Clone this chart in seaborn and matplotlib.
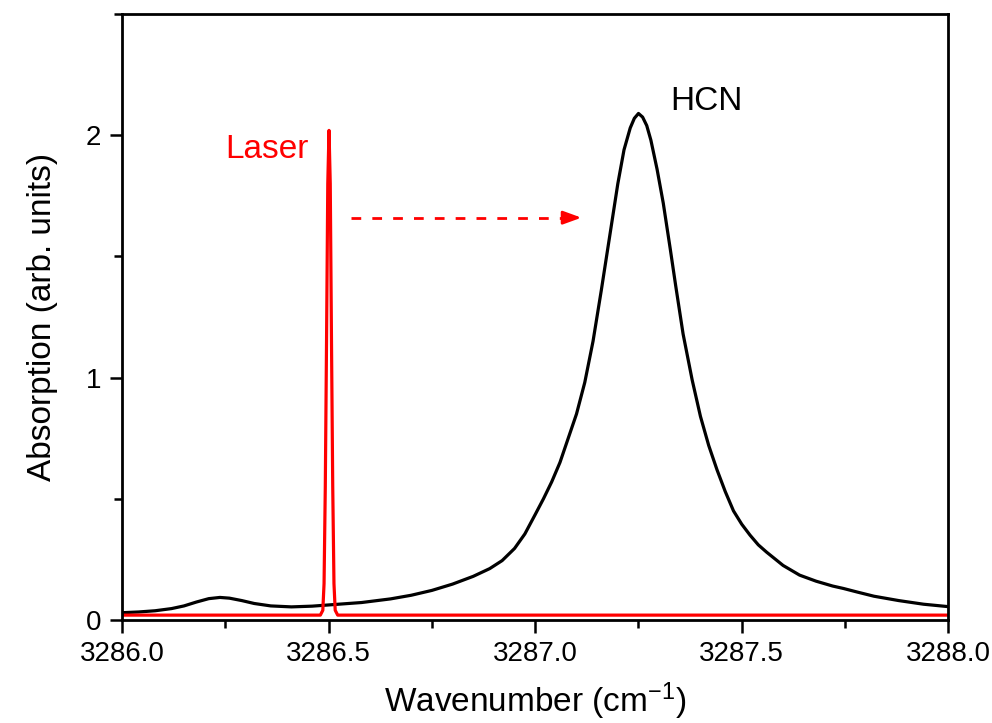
import pandas as pd
import seaborn as sns
import matplotlib.pyplot as plt
from matplotlib.ticker import MultipleLocator, FormatStrFormatter

# HCN absorption line
hcn_x = [3286.00, 3286.04, 3286.08, 3286.12, 3286.15, 3286.18, 3286.21,
         3286.237, 3286.26, 3286.29, 3286.32, 3286.36, 3286.41, 3286.46,
         3286.50, 3286.58, 3286.65, 3286.70, 3286.75, 3286.80, 3286.85,
         3286.89, 3286.92, 3286.95, 3286.975, 3287.00, 3287.02, 3287.04,
         3287.06, 3287.08, 3287.10, 3287.12, 3287.14, 3287.16, 3287.18,
         3287.20, 3287.215, 3287.23, 3287.24, 3287.25, 3287.26, 3287.27,
         3287.28, 3287.295, 3287.31, 3287.327, 3287.34, 3287.358, 3287.38,
         3287.40, 3287.42, 3287.44, 3287.46, 3287.48, 3287.50, 3287.52,
         3287.54, 3287.56, 3287.60, 3287.64, 3287.68, 3287.72, 3287.746,
         3287.78, 3287.82, 3287.88, 3287.94, 3288.00]
hcn_y = [0.030, 0.033, 0.038, 0.047, 0.058, 0.074, 0.088,
         0.093, 0.090, 0.080, 0.068, 0.058, 0.054, 0.057,
         0.062, 0.072, 0.087, 0.102, 0.122, 0.148, 0.180,
         0.212, 0.245, 0.295, 0.355, 0.435, 0.500, 0.570,
         0.650, 0.750, 0.850, 0.980, 1.150, 1.360, 1.580,
         1.800, 1.940, 2.030, 2.070, 2.090, 2.075, 2.040,
         1.980, 1.860, 1.720, 1.530, 1.380, 1.180, 0.990,
         0.840, 0.720, 0.620, 0.530, 0.450, 0.395, 0.350,
         0.310, 0.280, 0.225, 0.185, 0.160, 0.140, 0.130,
         0.115, 0.098, 0.080, 0.065, 0.055]

# laser line
laser_x = [3286.00, 3286.480, 3286.486, 3286.489, 3286.492, 3286.495,
           3286.498, 3286.501, 3286.504, 3286.507, 3286.510, 3286.513,
           3286.516, 3286.522, 3288.00]
laser_y = [0.02, 0.02, 0.04, 0.15, 0.55, 1.15,
           1.80, 2.02, 1.80, 1.15, 0.55, 0.15,
           0.04, 0.02, 0.02]

hcn = pd.DataFrame({'x': hcn_x, 'y': hcn_y})
laser = pd.DataFrame({'x': laser_x, 'y': laser_y})

sns.set_style('ticks', {'axes.edgecolor': 'black', 'xtick.color': 'black',
                        'ytick.color': 'black', 'text.color': 'black',
                        'axes.labelcolor': 'black'})
plt.rcParams['font.family'] = ['Liberation Sans', 'DejaVu Sans']
plt.rcParams['mathtext.default'] = 'regular'

fig = plt.figure(figsize=(9.92, 7.23), dpi=100)
ax = fig.add_axes([0.123, 0.1425, 0.833, 0.838])

sns.lineplot(x='x', y='y', data=hcn, color='black', linewidth=2.3, ax=ax,
             solid_joinstyle='round')
sns.lineplot(x='x', y='y', data=laser, color='red', linewidth=2.3, ax=ax,
             solid_joinstyle='round')

# dashed arrow from laser toward HCN
ax.plot([3286.555, 3287.07], [1.66, 1.66], color='red',
        linestyle=(0, (3.5, 4)), linewidth=2.0)
ax.annotate('', xy=(3287.112, 1.66), xytext=(3287.07, 1.66),
            arrowprops=dict(arrowstyle='-|>,head_length=1.1,head_width=0.4',
                            color='red', lw=2.0, shrinkA=0, shrinkB=0))

ax.text(3286.35, 1.94, 'Laser', color='red', fontsize=24, ha='center', va='center')
ax.text(3287.415, 2.14, 'HCN', color='black', fontsize=24, ha='center', va='center')

ax.set_xlim(3286.0, 3288.0)
ax.set_ylim(0, 2.5)
ax.xaxis.set_major_locator(MultipleLocator(0.5))
ax.xaxis.set_minor_locator(MultipleLocator(0.25))
ax.xaxis.set_major_formatter(FormatStrFormatter('%.1f'))
ax.yaxis.set_major_locator(MultipleLocator(1))
ax.yaxis.set_minor_locator(MultipleLocator(0.5))
ax.tick_params(which='major', direction='out', length=9, width=1.8,
               labelsize=20, pad=6)
ax.tick_params(which='minor', direction='out', length=6, width=1.8)
for s in ax.spines.values():
    s.set_visible(True)
    s.set_linewidth(2.0)

ax.set_xlabel('Wavenumber (cm$^{-1}$)', fontsize=24, labelpad=10)
ax.set_ylabel('Absorption (arb. units)', fontsize=24, labelpad=20)

plt.savefig('out.png', dpi=100)
